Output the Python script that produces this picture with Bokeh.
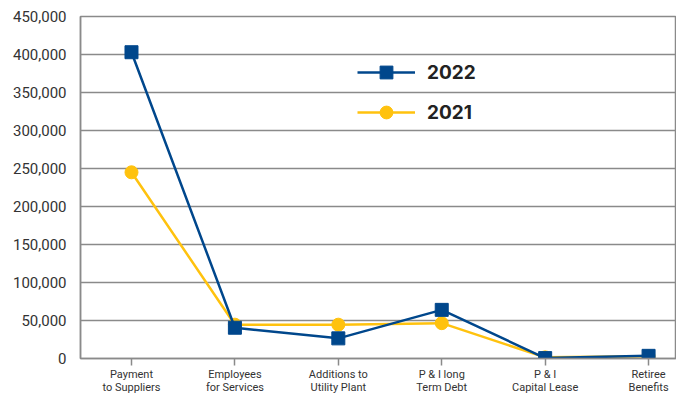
from bokeh.plotting import figure
from bokeh.models import FixedTicker, Range1d, Legend, LegendItem, NumeralTickFormatter
from bokeh.embed import file_html
from bokeh.resources import INLINE

categories = ["Payment\nto Suppliers", "Employees\nfor Services", "Additions to\nUtility Plant",
              "P & I long\nTerm Debt", "P & I\nCapital Lease", "Retiree\nBenefits"]
values_2022 = [403000, 40500, 26500, 64000, 500, 3500]
values_2021 = [245000, 44500, 44500, 46500, 1500, 3000]
y_ticks = [0, 50000, 100000, 150000, 200000, 250000, 300000, 350000, 400000, 450000]

x = list(range(len(categories)))

BLUE = "#00478C"
YELLOW = "#FFC20E"
GRID = "#8a8a8a"

p = figure(width=676, height=396, output_backend="svg", toolbar_location=None,
           x_range=Range1d(-0.493, 5.27), y_range=Range1d(0, 450000),
           min_border_left=80, min_border_right=0, min_border_top=16, min_border_bottom=38)

p.outline_line_color = GRID
p.outline_line_width = 1.5
p.background_fill_color = "white"
p.border_fill_color = "white"

p.xgrid.visible = False
p.ygrid.grid_line_color = GRID
p.ygrid.grid_line_width = 1.5
p.ygrid.ticker = FixedTicker(ticks=y_ticks)

p.yaxis.ticker = FixedTicker(ticks=y_ticks)
p.yaxis.formatter = NumeralTickFormatter(format="0,0")
p.yaxis.major_tick_line_color = None
p.yaxis.minor_tick_line_color = None
p.yaxis.axis_line_color = GRID
p.yaxis.axis_line_width = 1.5
p.yaxis.major_label_text_font = "Roboto"
p.yaxis.major_label_text_font_size = "15px"
p.yaxis.major_label_text_color = "#333333"
p.yaxis.major_label_standoff = 8

p.xaxis.ticker = FixedTicker(ticks=x)
p.xaxis.major_label_overrides = {i: c for i, c in enumerate(categories)}
p.xaxis.major_tick_line_color = GRID
p.xaxis.major_tick_line_width = 1.5
p.xaxis.major_tick_out = 7
p.xaxis.major_tick_in = 0
p.xaxis.minor_tick_line_color = None
p.xaxis.axis_line_color = GRID
p.xaxis.axis_line_width = 1.5
p.xaxis.major_label_text_font = "Roboto"
p.xaxis.major_label_text_font_size = "11px"
p.xaxis.major_label_text_line_height = 1.0
p.xaxis.major_label_text_color = "#333333"
p.xaxis.major_label_standoff = 2

l22 = p.line(x, values_2022, color=BLUE, line_width=2.5)
m22 = p.scatter(x, values_2022, marker="square", size=13, color=BLUE)
l21 = p.line(x, values_2021, color=YELLOW, line_width=2.5)
m21 = p.scatter(x, values_2021, marker="circle", size=13, color=YELLOW)
# draw 2022 over 2021
p.renderers = [l21, m21, l22, m22]

legend = Legend(items=[LegendItem(label="2022", renderers=[l22, m22]),
                       LegendItem(label="2021", renderers=[l21, m21])],
                location=(277, 230), orientation="vertical",
                glyph_width=58, glyph_height=32, label_height=20, spacing=8,
                label_standoff=12, padding=0, margin=0,
                border_line_alpha=0, background_fill_alpha=0,
                label_text_font="Inter", label_text_font_style="bold",
                label_text_font_size="19px", label_text_color="#222222")
p.add_layout(legend, "center")

open("out.html", "w").write(file_html(p, INLINE))
